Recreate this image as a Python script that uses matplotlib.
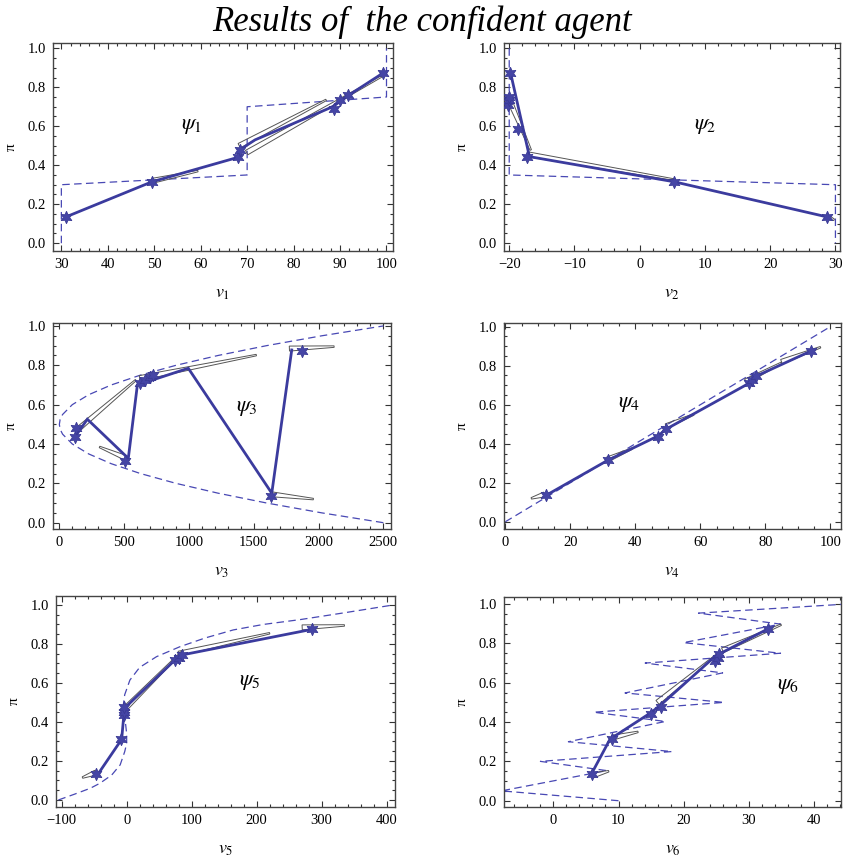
import numpy as np
import matplotlib
matplotlib.use('Agg')
import matplotlib.pyplot as plt
from matplotlib.ticker import MultipleLocator

plt.rcParams['font.family'] = ['Liberation Serif', 'DejaVu Serif']
plt.rcParams['mathtext.fontset'] = 'stix'

# panel 1
p1_dash_v = [30, 30, 70, 70, 100, 100]
p1_dash_pi = [0.0, 0.30, 0.35, 0.70, 0.75, 1.0]
p1_path_v = [31, 49.5, 68.1, 68.4, 71.7, 88.5, 91.4, 99.2]
p1_path_pi = [0.135, 0.315, 0.441, 0.479, 0.53, 0.701, 0.752, 0.872]
p1_star_v = [31, 49.5, 68, 68.4, 88.6, 90, 91.8, 99.3]
p1_star_pi = [0.135, 0.315, 0.44, 0.48, 0.69, 0.735, 0.76, 0.875]
p1_grey = [(49.6, 0.32, 59.4, 0.37), (68.3, 0.50, 87.0, 0.735), (69.9, 0.465, 98.9, 0.855)]

# panel 2
p2_dash_v = [-20, -20, 30, 30]
p2_dash_pi = [1.0, 0.35, 0.30, 0.0]
p2_path_v = [28.7, 5.3, -16.9, -19.8]
p2_path_pi = [0.135, 0.315, 0.444, 0.875]
p2_star_v = [28.7, 5.3, -17.3, -18.6, -20.2, -20.1, -20.1, -19.9]
p2_star_pi = [0.135, 0.315, 0.444, 0.585, 0.71, 0.735, 0.75, 0.875]
p2_grey = [(-19.8, 0.72, -16.7, 0.478), (-17.0, 0.455, 5.5, 0.325), (28.7, 0.135, 29.8, 0.12)]

# panel 3
p3_dash_pi = [0.0, 0.05, 0.10, 0.15, 0.20, 0.25, 0.30, 0.35, 0.40, 0.45, 0.475, 0.50,
              0.525, 0.55, 0.60, 0.65, 0.70, 0.75, 0.80, 0.85, 0.90, 0.95, 1.0]
p3_dash_v = [2500, 2025, 1600, 1225, 900, 625, 400, 225, 100, 25, 6, 0,
             6, 25, 100, 225, 400, 625, 900, 1225, 1600, 2025, 2500]
p3_path_v = [125, 216, 532, 602, 995, 1639, 1793]
p3_path_pi = [0.44, 0.526, 0.327, 0.70, 0.785, 0.15, 0.878]
p3_star_v = [120, 125, 508, 625, 660, 700, 725, 1630, 1875]
p3_star_pi = [0.435, 0.48, 0.315, 0.71, 0.725, 0.74, 0.75, 0.135, 0.875]
p3_grey = [(135, 0.47, 590, 0.725), (510, 0.33, 310, 0.385), (620, 0.735, 1520, 0.852),
           (1630, 0.145, 1960, 0.12), (1775, 0.885, 2120, 0.895)]

# panel 4
p4_dash_v = [0, 100]
p4_dash_pi = [0.0, 1.0]
p4_path_v = [12.5, 31.5, 47, 49.5, 75, 77, 94]
p4_path_pi = [0.135, 0.315, 0.44, 0.475, 0.71, 0.745, 0.875]
p4_star_v = [12.5, 31.5, 47, 49.5, 75, 76, 77, 94]
p4_star_pi = [0.135, 0.315, 0.435, 0.475, 0.71, 0.725, 0.745, 0.875]
p4_grey = [(12, 0.14, 8, 0.12), (31.5, 0.32, 39, 0.375), (49.5, 0.49, 58, 0.55),
           (74, 0.72, 85, 0.815), (85, 0.82, 97, 0.895)]

# panel 5
p5_dash_v = [-105, -80, -56, -41, -23, -10, -3, 0, 0, -2, -4.5, -5, -3, 5, 20, 46, 82,
             120, 164, 210, 267, 335, 410]
p5_dash_pi = [0.0, 0.03, 0.06, 0.086, 0.128, 0.18, 0.248, 0.29, 0.34, 0.40, 0.45, 0.49,
              0.54, 0.615, 0.68, 0.735, 0.786, 0.83, 0.872, 0.90, 0.925, 0.96, 1.0]
p5_path_v = [-44, -7.7, -4.2, -3.5, 75, 80, 87, 285]
p5_path_pi = [0.133, 0.311, 0.44, 0.47, 0.72, 0.735, 0.745, 0.875]
p5_star_v = [-47, -8, -4, -4, -4, 75, 80, 85, 285]
p5_star_pi = [0.135, 0.315, 0.435, 0.45, 0.475, 0.72, 0.73, 0.745, 0.875]
p5_grey = [(-48, 0.14, -68, 0.115), (-2, 0.47, 85, 0.76), (80, 0.75, 220, 0.855),
           (270, 0.885, 335, 0.895)]

# panel 6
p6_dash_v = [10, -8, 8.2, -2, 18.2, 2.3, 17.2, 6.2, 26.2, 11, 26, 14.1, 34.9, 20, 34.9, 22.3, 45]
p6_dash_pi = [0.0, 0.05, 0.153, 0.2, 0.25, 0.3, 0.403, 0.45, 0.5, 0.548, 0.65, 0.70, 0.75,
              0.804, 0.898, 0.954, 1.0]
p6_path_v = [5.9, 8.7, 14.9, 16.4, 24.9, 33.1]
p6_path_pi = [0.14, 0.313, 0.446, 0.484, 0.736, 0.876]
p6_star_v = [6, 9, 15, 16.5, 24.8, 25.3, 25.5, 33]
p6_star_pi = [0.135, 0.315, 0.44, 0.475, 0.71, 0.725, 0.745, 0.875]
p6_grey = [(9, 0.32, 13, 0.35), (16, 0.50, 25, 0.74), (26, 0.765, 35, 0.895), (6.2, 0.13, 8.5, 0.15)]

panels = [
    (p1_dash_v, p1_dash_pi, p1_path_v, p1_path_pi, p1_star_v, p1_star_pi, p1_grey),
    (p2_dash_v, p2_dash_pi, p2_path_v, p2_path_pi, p2_star_v, p2_star_pi, p2_grey),
    (p3_dash_v, p3_dash_pi, p3_path_v, p3_path_pi, p3_star_v, p3_star_pi, p3_grey),
    (p4_dash_v, p4_dash_pi, p4_path_v, p4_path_pi, p4_star_v, p4_star_pi, p4_grey),
    (p5_dash_v, p5_dash_pi, p5_path_v, p5_path_pi, p5_star_v, p5_star_pi, p5_grey),
    (p6_dash_v, p6_dash_pi, p6_path_v, p6_path_pi, p6_star_v, p6_star_pi, p6_grey),
]

# pixel boxes: left, right, top, bottom
boxes = [(53, 393, 43, 251), (504, 840, 43, 251), (53, 391, 323, 529),
         (504, 841, 323, 529), (56, 395, 596, 807), (504, 841, 597, 807)]
xlims = [(28.2, 101.4), (-20.8, 30.7), (-49, 2559), (-0.4, 103.3), (-108.7, 412.8), (-7.6, 44.2)]
ylims = [(-0.04, 1.027), (-0.04, 1.027), (-0.032, 1.015), (-0.037, 1.019), (-0.036, 1.046), (-0.032, 1.036)]
xmajor = [10, 10, 500, 20, 100, 10]
xminor = [2, 2, 100, 5, 20, 2]
psi_pos = [(58, 0.6), (10, 0.6), (1450, 0.58), (38, 0.6), (190, 0.6), (36, 0.58)]

W, H = 844, 858
fig = plt.figure(figsize=(W / 100, H / 100), dpi=100)

blue = '#3b3b9e'
dblue = '#4848b4'
grey = '#555555'


def wedge(ax, x0, y0, x1, y1, wb=5.0, wt=1.5):
    tr = ax.transData
    a = tr.transform((x0, y0))
    b = tr.transform((x1, y1))
    d = b - a
    n = np.array([-d[1], d[0]]) / np.hypot(d[0], d[1])
    pts = np.array([a + n * wb / 2, b + n * wt / 2, b - n * wt / 2, a - n * wb / 2])
    pts = tr.inverted().transform(pts)
    ax.fill(pts[:, 0], pts[:, 1], fill=False, ec=grey, lw=0.7, zorder=3)


for i, (dv, dp, pv, pp, sv, sp, gr) in enumerate(panels):
    l, r, t, b = boxes[i]
    ax = fig.add_axes([l / W, 1 - b / H, (r - l) / W, (b - t) / H])
    ax.set_xlim(*xlims[i])
    ax.set_ylim(*ylims[i])
    ax.plot(dv, dp, color=dblue, lw=0.9, dashes=(6, 3.5), zorder=2)
    for g in gr:
        wedge(ax, *g)
    ax.plot(pv, pp, color=blue, lw=2, zorder=4, solid_joinstyle='miter')
    ax.plot(sv, sp, ls='none', marker=(6, 1, 0), ms=9, color='#4545a5', mec='#3a3a95', mew=0.6, zorder=5)
    ax.text(psi_pos[i][0], psi_pos[i][1], r'$\psi_%d$' % (i + 1), fontsize=16, ha='center', va='center')

    ax.xaxis.set_major_locator(MultipleLocator(xmajor[i]))
    ax.xaxis.set_minor_locator(MultipleLocator(xminor[i]))
    ax.yaxis.set_major_locator(MultipleLocator(0.2))
    ax.yaxis.set_minor_locator(MultipleLocator(0.05))
    ax.yaxis.set_major_formatter(lambda v, pos: '%.1f' % v)
    ax.tick_params(which='both', direction='in', top=True, right=True, color='#333333', width=0.8,
                   labelsize=10.5, pad=5)
    ax.tick_params(which='major', length=4)
    ax.tick_params(which='minor', length=2)
    for s in ax.spines.values():
        s.set_linewidth(1.0)
        s.set_color('#444444')
    ax.set_xlabel(r'$v_%d$' % (i + 1), fontsize=13, labelpad=10)
    ax.set_ylabel('π', fontsize=11, labelpad=7)

fig.text(0.5, 1 - 22 / H, 'Results of  the confident agent', style='italic', fontsize=25,
         ha='center', va='center')

plt.savefig('out.png', dpi=100)
